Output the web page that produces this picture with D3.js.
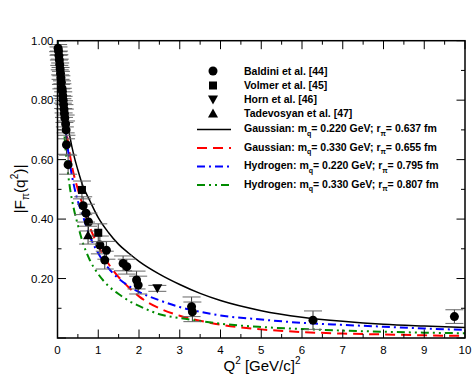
<!DOCTYPE html>
<html>
<head>
<meta charset="utf-8">
<script src="https://cdn.jsdelivr.net/npm/d3@7"></script>
<style>
  body { margin: 0; background: #fff; }
  svg text { font-family: "Liberation Sans", Arial, sans-serif; }
</style>
</head>
<body>
<svg id="chart" width="472" height="379"></svg>
<script>
// x grid for the model curves
var curveQ2 = [0, 0.05, 0.1, 0.2, 0.3, 0.4, 0.5, 0.6, 0.8, 1.0, 1.25, 1.5, 1.75, 2, 2.5, 3, 3.5, 4, 5, 6, 7, 8, 9, 10];
var gauss220 = [1, 0.93, 0.86, 0.76, 0.68, 0.615, 0.565, 0.52, 0.46, 0.405, 0.355, 0.315, 0.285, 0.258, 0.215, 0.18, 0.15, 0.126, 0.092, 0.07, 0.056, 0.046, 0.04, 0.035];
var gauss330 = [1, 0.94, 0.87, 0.72, 0.62, 0.55, 0.5, 0.455, 0.37, 0.31, 0.25, 0.205, 0.17, 0.14, 0.1, 0.075, 0.058, 0.045, 0.029, 0.02, 0.015, 0.012, 0.009, 0.007];
var hydro220 = [1, 0.93, 0.85, 0.7, 0.59, 0.515, 0.46, 0.42, 0.34, 0.285, 0.235, 0.2, 0.175, 0.155, 0.127, 0.104, 0.088, 0.076, 0.062, 0.051, 0.044, 0.038, 0.032, 0.027];
var hydro330 = [1, 0.9, 0.82, 0.63, 0.51, 0.435, 0.38, 0.33, 0.26, 0.215, 0.175, 0.148, 0.125, 0.108, 0.08, 0.067, 0.057, 0.048, 0.037, 0.03, 0.025, 0.021, 0.018, 0.016];

// data points: Q2, F, error
var baldiniQ2 = [0.015, 0.025, 0.035, 0.045, 0.055, 0.065, 0.075, 0.085, 0.095, 0.11, 0.12, 0.13, 0.14, 0.15, 0.16, 0.17, 0.18, 0.2, 0.21, 0.22, 0.26,
                 0.63, 0.70, 0.76, 1.04, 1.2, 1.16, 1.61, 1.70, 1.94, 1.98, 3.29, 3.31, 6.27, 9.74];
var baldiniF = [0.975, 0.965, 0.95, 0.935, 0.92, 0.905, 0.89, 0.875, 0.86, 0.84, 0.83, 0.815, 0.8, 0.785, 0.77, 0.755, 0.74, 0.72, 0.7, 0.65, 0.583,
                0.445, 0.42, 0.39, 0.313, 0.295, 0.262, 0.251, 0.24, 0.195, 0.178, 0.105, 0.088, 0.06, 0.072];
var baldiniErr = [0.012, 0.014, 0.015, 0.018, 0.018, 0.02, 0.02, 0.022, 0.022, 0.025, 0.025, 0.025, 0.028, 0.028, 0.028, 0.03, 0.03, 0.03, 0.03, 0.032, 0.032,
                  0.03, 0.03, 0.03, 0.03, 0.03, 0.03, 0.025, 0.025, 0.03, 0.03, 0.033, 0.033, 0.031, 0.023];
var volmerQ2 = [0.6, 1.0];
var volmerF = [0.498, 0.354];
var volmerErr = [0.03, 0.03];
var hornQ2 = [2.45];
var hornF = [0.167];
var hornErr = [0.01];
var tadevQ2 = [0.75];
var tadevF = [0.346];
var tadevErr = [0.03];

var xTicks = [0, 1, 2, 3, 4, 5, 6, 7, 8, 9, 10];
var yTicks = [0.2, 0.4, 0.6, 0.8, 1.0];

var legendLabels = ["Baldini et al. [44]", "Volmer et al. [45]", "Horn et al. [46]", "Tadevosyan et al. [47]"];
var curveNames = [
    ["Gaussian", "0.220", "0.637"],
    ["Gaussian", "0.330", "0.655"],
    ["Hydrogen", "0.220", "0.795"],
    ["Hydrogen", "0.330", "0.807"]
];

(function () {
    'use strict';
    var svg = d3.select("#chart"),
        left = 57.5, right = 465, top = 40.7, bottom = 338,
        x = d3.scaleLinear().domain([0, 10]).range([left, right]),
        y = d3.scaleLinear().domain([0, 1]).range([bottom, top]),
        curves = [
            {vals: gauss220, color: "#000", dash: null, w: 1.5},
            {vals: gauss330, color: "#ff0000", dash: "10,6", w: 2},
            {vals: hydro220, color: "#0000ff", dash: "8,4,2,4", w: 2},
            {vals: hydro330, color: "#008b00", dash: "8,4,2,4,2,4", w: 2}
        ];

    svg.append("clipPath").attr("id", "clip").append("rect")
        .attr("x", left).attr("y", top).attr("width", right - left).attr("height", bottom - top);

    // axes: ticks inward on all four sides
    function frame() {
        var g = svg.append("g").attr("stroke", "#000").attr("stroke-width", 1);
        var minorX = d3.range(0, 10.01, 0.5), minorY = d3.range(0, 1.001, 0.1);
        minorX.forEach(function (v) {
            var major = Math.abs(v - Math.round(v)) < 1e-6, len = major ? 8.5 : 4;
            g.append("line").attr("x1", x(v)).attr("x2", x(v)).attr("y1", bottom).attr("y2", bottom - len);
            g.append("line").attr("x1", x(v)).attr("x2", x(v)).attr("y1", top).attr("y2", top + len);
        });
        minorY.forEach(function (v) {
            var major = Math.round(v * 10) % 2 === 0, len = major ? 8.5 : 4;
            g.append("line").attr("y1", y(v)).attr("y2", y(v)).attr("x1", left).attr("x2", left + len);
            g.append("line").attr("y1", y(v)).attr("y2", y(v)).attr("x1", right).attr("x2", right - len);
        });
        g.append("rect").attr("x", left).attr("y", top).attr("width", right - left).attr("height", bottom - top)
            .attr("fill", "none").attr("stroke-width", 1.5);
    }

    function tickLabels() {
        svg.append("g").selectAll("text").data(xTicks).enter().append("text")
            .attr("x", function (d) { return x(d); })
            .attr("y", bottom + 16)
            .attr("text-anchor", "middle").attr("font-size", 11.5)
            .text(function (d) { return d; });
        svg.append("g").selectAll("text").data(yTicks).enter().append("text")
            .attr("x", left - 4)
            .attr("y", function (d) { return y(d) + 4; })
            .attr("text-anchor", "end").attr("font-size", 11.5)
            .text(function (d) { return d.toFixed(2); });
    }

    function titles() {
        var xt = svg.append("text").attr("x", 262).attr("y", 371).attr("text-anchor", "middle").attr("font-size", 15);
        xt.append("tspan").text("Q");
        xt.append("tspan").attr("dy", -7).attr("font-size", 10).text("2");
        xt.append("tspan").attr("dy", 7).text(" [GeV/c]");
        xt.append("tspan").attr("dy", -7).attr("font-size", 10).text("2");

        var yt = svg.append("text").attr("transform", "translate(25,189) rotate(-90)")
            .attr("text-anchor", "middle").attr("font-size", 15.5);
        yt.append("tspan").text("|F");
        yt.append("tspan").attr("dy", 4).attr("font-size", 10).text("\u03c0");
        yt.append("tspan").attr("dy", -4).text("(q");
        yt.append("tspan").attr("dy", -7).attr("font-size", 10).text("2");
        yt.append("tspan").attr("dy", 7).text(")|");
    }

    function drawCurves() {
        var line = d3.line().x(function (d) { return x(d[0]); }).y(function (d) { return y(d[1]); })
            .curve(d3.curveMonotoneX);
        var g = svg.append("g").attr("clip-path", "url(#clip)");
        curves.forEach(function (c) {
            g.append("path").datum(d3.zip(curveQ2, c.vals)).attr("d", line)
                .attr("fill", "none").attr("stroke", c.color).attr("stroke-width", c.w)
                .attr("stroke-dasharray", c.dash);
        });
    }

    function symbol(g, type, cx, cy) {
        if (type === "circle") {
            g.append("circle").attr("cx", cx).attr("cy", cy).attr("r", 4.5).attr("fill", "#000");
        } else if (type === "square") {
            g.append("rect").attr("x", cx - 4).attr("y", cy - 4).attr("width", 8).attr("height", 8).attr("fill", "#000");
        } else if (type === "down") {
            g.append("path").attr("d", "M" + (cx - 5) + "," + (cy - 4) + "L" + (cx + 5) + "," + (cy - 4) + "L" + cx + "," + (cy + 5) + "Z").attr("fill", "#000");
        } else {
            g.append("path").attr("d", "M" + (cx - 5) + "," + (cy + 4) + "L" + (cx + 5) + "," + (cy + 4) + "L" + cx + "," + (cy - 5) + "Z").attr("fill", "#000");
        }
    }

    function drawPoints(qs, fs, es, type) {
        var g = svg.append("g");
        qs.forEach(function (q, i) {
            var cx = x(q), hi = y(fs[i] + es[i]), lo = y(fs[i] - es[i]);
            g.append("line").attr("x1", cx).attr("x2", cx).attr("y1", hi).attr("y2", lo).attr("stroke", "#333").attr("stroke-width", 1);
            [hi, lo].forEach(function (yy) {
                g.append("line").attr("x1", cx - 9).attr("x2", cx + 9).attr("y1", yy).attr("y2", yy)
                    .attr("stroke", "#666").attr("stroke-width", 1);
            });
        });
        qs.forEach(function (q, i) { symbol(g, type, x(q), y(fs[i])); });
    }

    function legend() {
        var g = svg.append("g").attr("font-size", 10.5).attr("font-weight", "bold"),
            types = ["circle", "square", "down", "up"],
            rowsY = [71, 85.5, 99.5, 113.5],
            lineRows = [128.5, 147, 165.5, 184];
        legendLabels.forEach(function (lab, i) {
            symbol(g, types[i], 213, rowsY[i]);
            g.append("text").attr("x", 244).attr("y", rowsY[i] + 3.5).text(lab);
        });
        curveNames.forEach(function (n, i) {
            var c = curves[i], ly = lineRows[i], t;
            g.append("line").attr("x1", 197).attr("x2", 231).attr("y1", ly + 1).attr("y2", ly + 1)
                .attr("stroke", c.color).attr("stroke-width", c.w).attr("stroke-dasharray", c.dash);
            t = g.append("text").attr("x", 244).attr("y", ly + 3.5);
            t.append("tspan").text(n[0] + ": m");
            t.append("tspan").attr("dy", 3.5).attr("font-size", 7).text("q");
            t.append("tspan").attr("dy", -3.5).text("= " + n[1] + " GeV; r");
            t.append("tspan").attr("dy", 3.5).attr("font-size", 7).text("\u03c0");
            t.append("tspan").attr("dy", -3.5).text("= " + n[2] + " fm");
        });
    }

    drawCurves();
    drawPoints(baldiniQ2, baldiniF, baldiniErr, "circle");
    drawPoints(volmerQ2, volmerF, volmerErr, "square");
    drawPoints(hornQ2, hornF, hornErr, "down");
    drawPoints(tadevQ2, tadevF, tadevErr, "up");
    frame();
    tickLabels();
    titles();
    legend();
}());
</script>
</body>
</html>
